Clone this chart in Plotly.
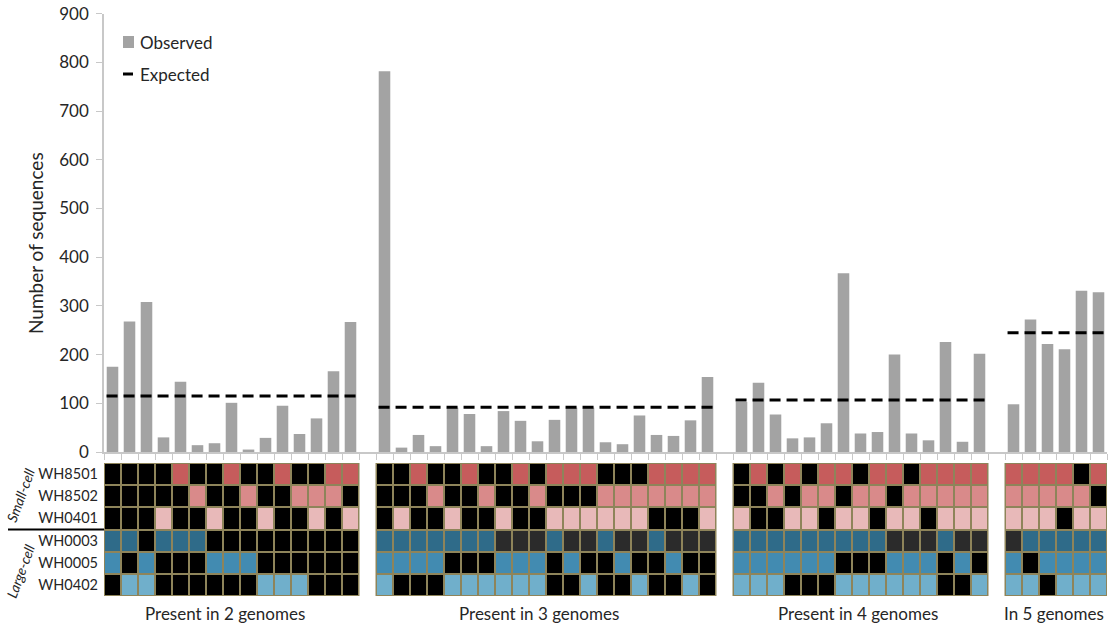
import plotly.graph_objects as go

# ---- data -------------------------------------------------------------
group_labels = ["Present in 2 genomes", "Present in 3 genomes",
                "Present in 4 genomes", "In 5 genomes"]
group_sizes = [15, 20, 15, 6]

observed_2 = [175, 268, 308, 30, 144, 14, 18, 101, 5, 29, 95, 37, 69, 166, 267]
observed_3 = [782, 9, 35, 12, 91, 78, 12, 84, 64, 22, 66, 91, 91, 20, 16, 75,
              35, 33, 65, 154]
observed_4 = [103, 142, 77, 28, 30, 59, 367, 38, 41, 200, 38, 24, 226, 21, 202]
observed_5 = [98, 272, 222, 211, 331, 328]
expected = [115, 92, 107, 245]

genomes = ["WH8501", "WH8502", "WH0401", "WH0003", "WH0005", "WH0402"]
genome_group = ["Small-cell", "Small-cell", "Small-cell",
                "Large-cell", "Large-cell", "Large-cell"]

# presence (1) / absence (0) of each sequence cluster per genome
WH8501 = [0,0,0,0,1,0,0,1,0,0,1,0,0,1,1,
          0,0,1,0,0,1,0,0,1,0,1,1,1,0,0,0,1,1,1,1,
          0,1,0,1,0,1,1,0,1,1,0,1,1,1,1,
          1,1,1,1,0,1]
WH8502 = [0,0,0,0,0,1,0,0,1,0,0,1,1,1,0,
          0,0,0,1,0,0,1,0,0,1,0,0,0,1,1,1,1,1,1,1,
          0,0,1,0,1,1,0,1,1,0,1,1,1,1,1,
          1,1,1,1,1,0]
WH0401 = [0,0,0,1,0,0,1,0,0,1,0,0,1,0,1,
          0,1,0,0,1,0,0,1,0,0,1,1,1,1,1,1,0,0,0,1,
          1,0,0,1,1,0,1,1,0,1,1,0,1,1,1,
          1,1,1,0,1,1]
WH0003 = [1,1,0,1,1,1,0,0,0,0,0,0,0,0,0,
          1,1,1,1,1,1,1,0,0,0,1,0,0,1,0,0,1,0,0,0,
          1,1,1,1,1,1,1,1,1,0,0,0,1,0,0,
          0,1,1,1,1,1]
WH0005 = [1,0,1,0,0,0,1,1,1,0,0,0,0,0,0,
          1,1,1,1,0,0,0,1,1,1,0,1,0,0,1,0,0,1,0,0,
          1,1,1,1,1,1,0,0,0,1,1,1,0,1,0,
          1,0,1,1,1,1]
WH0402 = [0,1,1,0,0,0,0,0,0,1,1,1,0,0,0,
          1,0,0,0,1,1,1,1,1,1,0,0,1,0,0,1,0,0,1,0,
          1,1,1,0,0,0,1,1,1,1,1,1,0,0,1,
          1,1,0,1,1,1]
presence = [WH8501, WH8502, WH0401, WH0003, WH0005, WH0402]

# ---- styling ------------------------------------------------------------
FONT = "Lato"
TXT = "#262626"
BAR = "#a3a3a3"
AXIS = "#c8c8c8"
GRID_LINE = "#8e845a"
cell_colors = ["#000000",   # absent
               "#c65c5c", "#d98a8a", "#e8b9b9",   # small-cell genomes
               "#2f6b89", "#428bb1", "#70afcb",   # large-cell genomes
               "#2b2b2b"]   # absent (WH0003, groups of 3+)

W, H = 1112, 629
L_M, R_M = 104, 5


def py(y):
    return (H - y) / H


def px(x):
    return (x - L_M) / (W - L_M - R_M)


# slot layout: one empty slot between groups
starts = []
pos = 0
for n in group_sizes:
    starts.append(pos)
    pos += n + 1
n_slots = pos - 1

observed = [observed_2, observed_3, observed_4, observed_5]
bar_x, bar_y = [], []
for s, vals in zip(starts, observed):
    for i, v in enumerate(vals):
        bar_x.append(s + i)
        bar_y.append(v)

# heatmap matrix over all slots (None for the gap slots)
col_slots = []
col_group = []
for gi, (s, n) in enumerate(zip(starts, group_sizes)):
    for i in range(n):
        col_slots.append(s + i)
        col_group.append(gi)

z = [[None] * n_slots for _ in genomes]
for r, row in enumerate(presence):
    for c, val in enumerate(row):
        slot = col_slots[c]
        if val:
            code = r + 1
        elif genomes[r] == "WH0003" and col_group[c] > 0:
            code = 7
        else:
            code = 0
        z[r][slot] = code

k = len(cell_colors)
colorscale = []
for i, col in enumerate(cell_colors):
    colorscale.append([i / k, col])
    colorscale.append([(i + 1) / k, col])

fig = go.Figure()

fig.add_trace(go.Bar(x=bar_x, y=bar_y, width=0.68, marker=dict(color=BAR, line=dict(width=0)),
                     name="Observed", showlegend=False, xaxis="x", yaxis="y"))

for s, n, e in zip(starts, group_sizes, expected):
    fig.add_trace(go.Scatter(x=[s - 0.35, s + n - 1 + 0.35], y=[e, e], mode="lines",
                             line=dict(color="black", width=3, dash="11px,6px"),
                             name="Expected", showlegend=False, xaxis="x", yaxis="y"))

fig.add_trace(go.Heatmap(z=z, x=list(range(n_slots)), y=list(range(len(genomes))),
                         colorscale=colorscale, zmin=-0.5, zmax=k - 0.5,
                         showscale=False, xgap=2, ygap=2, hoverongaps=False,
                         xaxis="x2", yaxis="y2"))

shapes = []
for s, n in zip(starts, group_sizes):
    shapes.append(dict(type="rect", xref="x2", yref="y2", x0=s - 0.5, x1=s + n - 0.5,
                       y0=-0.5, y1=5.5, fillcolor=GRID_LINE,
                       line=dict(color=GRID_LINE, width=1), layer="below"))

# separator between small-cell and large-cell rows
shapes.append(dict(type="line", xref="paper", yref="paper", x0=px(8), x1=px(104),
                   y0=py(529.5), y1=py(529.5), line=dict(color="black", width=2)))

# legend glyphs
shapes.append(dict(type="rect", xref="paper", yref="paper", x0=px(123), x1=px(134),
                   y0=py(48), y1=py(36), fillcolor=BAR, line=dict(width=0)))
shapes.append(dict(type="line", xref="paper", yref="paper", x0=px(123), x1=px(133),
                   y0=py(74), y1=py(74), line=dict(color="black", width=3)))

annotations = [
    dict(text="Observed", x=px(138), y=py(42), xanchor="left", yanchor="middle"),
    dict(text="Expected", x=px(138), y=py(74), xanchor="left", yanchor="middle"),
    dict(text="Number of sequences", x=px(35), y=py(243), textangle=-90,
         xanchor="center", yanchor="middle", font=dict(size=19)),
    dict(text="<i>Small-cell</i>", x=px(20), y=py(495), textangle=-70,
         xanchor="center", yanchor="middle", font=dict(size=14)),
    dict(text="<i>Large-cell</i>", x=px(20), y=py(571), textangle=-70,
         xanchor="center", yanchor="middle", font=dict(size=14)),
]
shifts = [-7, -7, -3, -2]
for s, n, lab, sh in zip(starts, group_sizes, group_labels, shifts):
    annotations.append(dict(text=lab, xref="x", x=(s + s + n - 1) / 2, xshift=sh,
                            y=py(613), yanchor="middle", xanchor="center"))
for a in annotations:
    a.setdefault("xref", "paper")
    a.setdefault("yref", "paper")
    a.setdefault("showarrow", False)
    a.setdefault("font", dict(size=17))
    a["font"] = dict(family=FONT, color=TXT, **a["font"])

fig.update_layout(
    width=W, height=H,
    margin=dict(l=L_M, r=R_M, t=0, b=0, pad=0, autoexpand=False),
    paper_bgcolor="white", plot_bgcolor="white",
    font=dict(family=FONT, size=17, color=TXT),
    bargap=0.3,
    xaxis=dict(domain=[0, 1], range=[-0.5, n_slots - 0.5], showline=True, linecolor=AXIS,
               linewidth=1.5, ticks="outside", ticklen=6, tickcolor=AXIS,
               tickvals=[i - 0.5 for i in range(n_slots + 1)], showticklabels=False,
               showgrid=False, zeroline=False, anchor="y", automargin=False),
    yaxis=dict(domain=[py(452), py(13.7)], range=[0, 900], dtick=100, showline=True,
               linecolor=AXIS, linewidth=1.5, ticks="outside", ticklen=6, tickcolor=AXIS,
               showgrid=False, zeroline=False, tickfont=dict(size=17, color=TXT),
               ticklabelstandoff=4, anchor="x", automargin=False),
    xaxis2=dict(domain=[0, 1], range=[-0.5, n_slots - 0.5], visible=False, anchor="y2",
                matches="x", automargin=False),
    yaxis2=dict(domain=[py(596), py(463)], range=[5.5, -0.5], tickvals=list(range(6)),
                ticktext=genomes, showgrid=False, zeroline=False, showline=False,
                ticks="", tickfont=dict(size=14.5, color=TXT), ticklabelstandoff=5,
                anchor="x2", automargin=False),
    shapes=shapes,
    annotations=annotations,
    showlegend=False,
)

fig.write_html("out.html")
